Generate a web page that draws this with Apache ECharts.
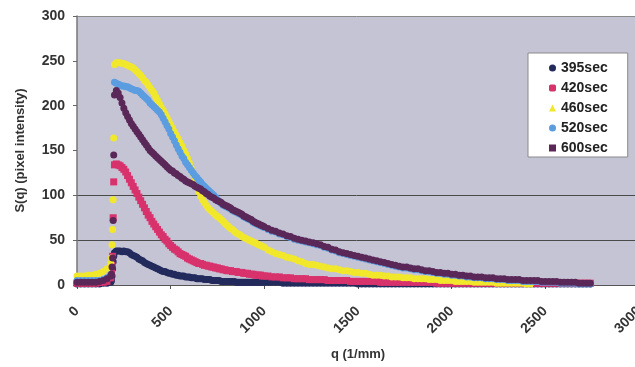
<!DOCTYPE html>
<html><head><meta charset="utf-8">
<script src="https://cdn.jsdelivr.net/npm/echarts@6/dist/echarts.min.js"></script>
<style>html,body{margin:0;padding:0;background:#fff}#c{width:635px;height:367px}</style>
</head><body><div id="c"></div><script>
// q values (1/mm)
const qLow = [0,20,40,60,80,100,120,140,160,180, 184,187,190,193,196];
const qMid = [200,210,220,230,240,250,260,270,280,290,
  300,310,320,330,340,350,360,370,380,390,
  400,410,420,430,440,450,460,470,480,490,
  500,510,520,530,540,550,560,570,580,590,
  600,610,620,630,640,650,660,670,680,690,
  700,710,720,730,740,750,760,770,780,790,
  800,810,820,830,840,850,860,870,880,890,
  900,910,920,930,940,950,960,970,980,990,
  1000];
const qHigh = [1020,1040,1060,1080,1100,1120,1140,1160,1180,1200,
  1220,1240,1260,1280,1300,1320,1340,1360,1380,1400,
  1420,1440,1460,1480,1500,1520,1540,1560,1580,1600,
  1620,1640,1660,1680,1700,1720,1740,1760,1780,1800,
  1820,1840,1860,1880,1900,1920,1940,1960,1980,2000,
  2020,2040,2060,2080,2100,2120,2140,2160,2180,2200,
  2220,2240,2260,2280,2300,2320,2340,2360,2380,2400,
  2420,2440,2460,2480,2500,2520,2540,2560,2580,2600,
  2620,2640,2660,2680,2700,2720,2740,2760,2780,2800];

// 395sec
const s395Low = [1,1,1,1,1,1,1,2,2,3, 5,10,18,26,32];
const s395Mid = [36,38,38,38,37,38,37,37,36,34,
  33,32,31,29,28,27,25,24,23,22,
  21,20,19,18,17,16,15,15,14,13,
  13,12,12,11,11,10,10,10,9,9,
  9,8,8,8,7,7,7,7,6,6,
  6,6,5,5,5,5,5,4,4,4,
  4,4,4,4,4,3,3,3,3,3,
  3,3,3,3,3,3,3,3,3,3,
  3];
const s395High = [3,3,3,3,2,2,2,2,2,2,
  2,2,2,2,2,2,2,2,2,2,
  2,2,2,2,1,1,1,1,1,1,
  1,1,1,1,1,1,1,1,1,1,
  1,1,1,1,1,1,1,1,1,1,
  1,1,1,1,1,1,1,1,1,1,
  1,1,1,1,1,1,1,1,1,1,
  1,1,1,1,1,1,1,1,1,1,
  1,1,1,1,1,1,1,null,null,null];

// 420sec
const s420Low = [2,2,2,2,2,2,3,3,4,8, 14,22,32,75,115];
const s420Mid = [134,135,134,133,131,129,126,122,118,114,
  110,106,102,98,94,90,86,82,78,75,
  71,68,65,62,59,56,54,51,49,46,
  44,42,40,39,37,35,34,33,32,30,
  29,28,27,26,25,24,24,23,22,22,
  21,21,20,20,19,19,18,18,17,17,
  16,16,16,15,15,15,14,14,14,13,
  13,13,12,12,12,11,11,11,11,10,
  10];
const s420High = [10,9,9,9,8,8,8,7,7,7,
  7,6,6,6,6,6,5,5,5,5,
  5,5,4,4,4,4,4,4,4,4,
  3,3,3,3,3,3,3,3,3,3,
  3,3,3,3,3,2,2,2,2,2,
  2,2,2,2,2,2,2,2,2,2,
  2,2,2,2,2,2,2,2,2,2,
  2,2,2,2,2,2,2,2,2,2,
  2,2,2,2,2,2,2,null,null,null];

// 460sec
const s460Low = [10,10,10,11,11,12,13,15,18,24, 30,45,62,95,164];
const s460Mid = [246,248,248,248,247,247,246,245,244,243,
  242,240,238,236,234,231,228,226,223,220,
  217,214,210,206,202,198,195,191,187,183,
  179,175,171,167,163,159,155,150,146,141,
  136,130,124,117,110,104,99,95,92,89,
  86,84,82,80,78,76,75,73,71,69,
  67,65,63,62,60,58,57,56,54,53,
  52,51,50,49,48,47,46,45,44,43,
  42];
const s460High = [39,37,35,34,33,31,30,29,27,26,
  24,23,23,22,21,20,19,18,18,17,
  16,16,15,14,14,13,13,12,11,11,
  11,10,10,9,9,9,8,8,8,7,
  7,7,7,6,6,6,5,5,5,5,
  4,4,4,4,4,3,3,3,3,3,
  3,2,2,2,2,2,2,2,2,1,
  1,null,null,null,null,null,null,null,null,null,
  null,null,null,null,null,null,null,null,null,null];

// 520sec
const s520Low = [5,5,5,5,5,5,5,6,8,12, null,null,null,null,null];
const s520Mid = [226,225,224,223,222,222,221,221,220,219,
  218,217,217,216,214,212,210,208,206,203,
  201,199,197,195,193,190,186,182,178,174,
  169,165,161,156,152,148,144,141,137,134,
  131,128,125,122,120,117,115,112,110,108,
  106,104,102,100,98,95,93,91,89,88,
  87,86,85,83,82,81,80,79,78,76,
  75,74,73,72,70,69,68,67,66,65,
  64];
const s520High = [62,60,59,57,56,54,53,51,50,49,
  48,47,46,45,44,42,41,39,38,36,
  35,34,33,32,31,30,29,28,27,26,
  25,24,23,22,21,20,19,19,18,17,
  17,16,15,15,14,13,13,12,12,11,
  11,10,10,9,9,8,8,8,7,7,
  7,6,6,6,5,5,5,5,4,4,
  4,4,4,3,3,3,3,3,2,2,
  2,2,2,1,1,1,1,null,null,null];

// 600sec
const s600Low = [3,3,3,3,3,3,4,5,7,10, 12,20,30,72,145];
const s600Mid = [212,217,214,209,203,197,192,188,184,180,
  177,174,171,168,165,162,159,156,153,150,
  148,146,144,142,140,138,136,134,132,130,
  128,127,125,124,122,121,119,118,116,115,
  114,113,112,110,109,108,107,105,104,102,
  101,99,98,97,95,94,93,92,90,89,
  88,87,86,84,83,82,81,80,79,77,
  76,75,74,73,71,70,69,68,67,66,
  65];
const s600High = [63,61,60,58,57,55,54,52,51,50,
  49,48,47,46,45,43,42,40,39,37,
  36,35,34,33,32,31,30,29,28,27,
  26,25,24,23,22,21,20,20,19,18,
  18,17,16,16,15,14,14,13,13,12,
  12,11,11,10,10,9,9,9,8,8,
  8,7,7,7,6,6,6,6,5,5,
  5,5,5,4,4,4,4,4,3,3,
  3,3,3,2,2,2,2,null,null,null];

const seriesNames = ['395sec','420sec','460sec','520sec','600sec'];
const seriesColors = ['#232a5c','#d8326c','#f1e82c','#5b9de0','#5a2858'];
const yTicks = [0,50,100,150,200,250,300];
const xTicks = [0,500,1000,1500,2000,2500,3000];

const q = qLow.concat(qMid, qHigh);
const allVals = [
  s395Low.concat(s395Mid, s395High),
  s420Low.concat(s420Mid, s420High),
  s460Low.concat(s460Mid, s460High),
  s520Low.concat(s520Mid, s520High),
  s600Low.concat(s600Mid, s600High)
];
function pairs(vals){
  const out = [];
  for (let i = 0; i < q.length; i++) if (vals[i] != null) out.push([q[i], vals[i]]);
  return out;
}
const symbols = ['circle','rect','circle','circle','circle'];
const legendIcons = ['circle','roundRect','triangle','circle','rect'];

const font = 'Liberation Sans, Arial, sans-serif';
const chart = echarts.init(document.getElementById('c'), null, {renderer:'canvas'});
chart.setOption({
  backgroundColor: '#ffffff',
  animation: false,
  textStyle: {fontFamily: font},
  grid: {left: 77, right: -4, top: 16, bottom: 82, show: true,
         backgroundColor: '#c5c4d4', borderWidth: 0, containLabel: false, outerBoundsMode: 'none'},
  legend: {
    orient: 'vertical', left: 528, top: 53,
    backgroundColor: '#ffffff', borderColor: '#8a8a8a', borderWidth: 1,
    padding: [8, 20, 2, 21], itemGap: 6, itemWidth: 7, itemHeight: 7,
    textStyle: {fontFamily: font, fontWeight: 'bold', fontSize: 14, color: '#222'},
    data: seriesNames.map((n, i) => ({name: n, icon: legendIcons[i]}))
  },
  xAxis: {
    type: 'value', min: xTicks[0], max: xTicks[xTicks.length-1], interval: 500,
    name: 'q (1/mm)', nameLocation: 'middle', nameGap: 63,
    nameTextStyle: {fontFamily: font, fontWeight: 'bold', fontSize: 13, color: '#333'},
    axisLine: {show: true, onZero: false, lineStyle: {color: '#555', width: 1}},
    axisTick: {show: true, length: 4, lineStyle: {color: '#555'}},
    axisLabel: {rotate: 45, margin: 24, fontFamily: font, fontWeight: 'bold', fontSize: 14, color: '#333',
      formatter: v => String(v)},
    splitLine: {show: false}
  },
  yAxis: {
    type: 'value', min: yTicks[0], max: yTicks[yTicks.length-1], interval: 50,
    name: 'S(q) (pixel intensity)', nameLocation: 'middle', nameGap: 50,
    nameTextStyle: {fontFamily: font, fontWeight: 'bold', fontSize: 13, color: '#333'},
    axisLine: {show: true, onZero: false, lineStyle: {color: '#777', width: 1.5}},
    axisTick: {show: true, length: 4, lineStyle: {color: '#666'}},
    axisLabel: {margin: 12, fontFamily: font, fontWeight: 'bold', fontSize: 14, color: '#333',
      formatter: v => String(v)},
    splitLine: {show: true, showMinLine: true, showMaxLine: true,
      lineStyle: {width: 1, color: ['rgba(0,0,0,0)','#4a4a4a','#4a4a4a','rgba(0,0,0,0)','rgba(0,0,0,0)','rgba(0,0,0,0)','#8a8a8a']}}
  },
  series: seriesNames.map((n, i) => ({
    name: n, type: 'scatter', data: pairs(allVals[i]),
    symbol: symbols[i], symbolSize: 7,
    itemStyle: {color: seriesColors[i], opacity: 1},
    emphasis: {disabled: true}
  }))
});
</script></body></html>
